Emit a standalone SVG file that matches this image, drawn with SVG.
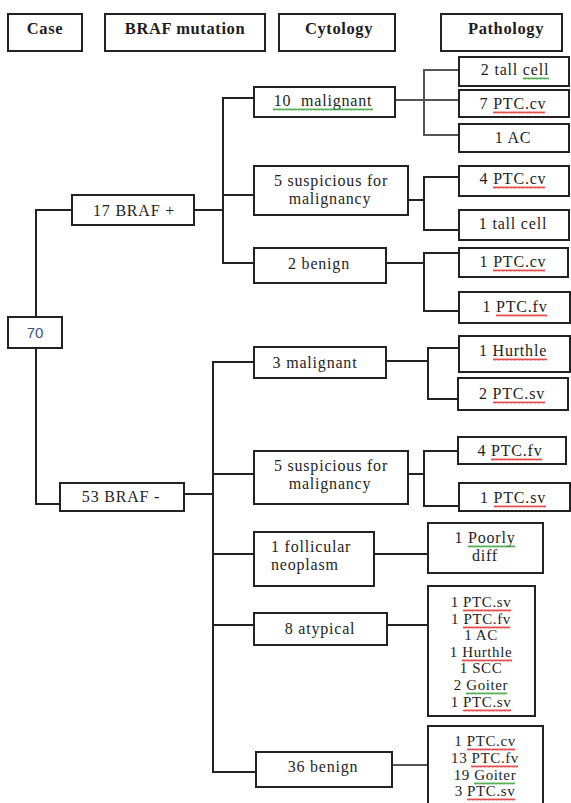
<svg xmlns="http://www.w3.org/2000/svg" width="571" height="803" viewBox="0 0 571 803">
<style>
rect.b{fill:#fff;stroke:#222;stroke-width:2}
text{font-family:"Liberation Serif","Times New Roman",serif;font-size:16px;letter-spacing:0.8px;fill:#1e1e1e;text-anchor:middle}
text.h{font-weight:bold;font-size:16.5px;letter-spacing:0.6px}
text.l{text-anchor:start}
text.s{font-size:15px;letter-spacing:0.6px}
text.n{font-family:"Liberation Sans",Arial,sans-serif;font-size:15px;letter-spacing:0;fill:#3a5680}
rect.r{fill:url(#wr)}
rect.g{fill:url(#wg)}
#connectors path{fill:none;stroke:#222;stroke-width:2}
#connectors path.gr{stroke:#555}
</style>
<defs>
<pattern id="wr" width="4" height="3" patternUnits="userSpaceOnUse"><path d="M0 2.5 L1 0.5 L2 2.5 L3 0.5 L4 2.5" fill="none" stroke="#e02020" stroke-width="0.8"/></pattern>
<pattern id="wg" width="4" height="3" patternUnits="userSpaceOnUse"><path d="M0 2.5 L1 0.5 L2 2.5 L3 0.5 L4 2.5" fill="none" stroke="#2a9a2a" stroke-width="0.8"/></pattern>
</defs>
<rect width="571" height="803" fill="#fff"/>
<g id="connectors">
<path d="M72 210 H36 V317"/>
<path d="M36 348 V504 H60"/>
<path d="M194 210 H223 M254 98 H223 V263 H254 M223 195 H254"/>
<path class="gr" d="M395 100 H424 M459 70 H424 V135 H459 M424 100 H459"/>
<path d="M408 200 H424 M459 177 H424 V230 H459"/>
<path d="M386 263 H424 M459 253 H424 V311 H459"/>
<path d="M184 494 H213 M254 362 H213 V772 H256 M213 474 H254 M213 554 H254 M213 625 H254"/>
<path d="M386 361 H428 M459 348 H428 V399 H458"/>
<path d="M408 474 H424 M458 451 H424 V506 H459"/>
<path d="M374 554 H428"/>
<path d="M387 625 H428"/>
<path class="gr" d="M392 765 H428"/>
</g>
<g id="h-case"><rect class="b" x="8" y="14" width="74" height="37"/><text class="h" x="45" y="34">Case</text></g>
<g id="h-braf"><rect class="b" x="105" y="14" width="160" height="37"/><text class="h" x="185" y="34">BRAF mutation</text></g>
<g id="h-cyto"><rect class="b" x="279" y="14" width="116" height="37"/><text class="h" x="339" y="34">Cytology</text></g>
<g id="h-path"><rect class="b" x="441" y="14" width="121" height="37"/><text class="h" x="506" y="34">Pathology</text></g>

<g id="n70"><rect class="b" x="8" y="317" width="54" height="31"/><text class="n" x="35" y="338">70</text></g>
<g id="braf-pos"><rect class="b" x="72" y="195" width="122" height="30"/><text x="134" y="216">17 BRAF +</text></g>
<g id="braf-neg"><rect class="b" x="60" y="483" width="124" height="28"/><text x="121" y="502">53 BRAF -</text></g>

<g id="c-mal1"><rect class="b" x="254" y="87" width="141" height="30"/><text x="323" y="106">10&#160; malignant</text><rect class="g" width="100" height="3" transform="translate(273 108)"/></g>
<g id="c-sus1"><rect class="b" x="254" y="166" width="154" height="49"/><text x="331" y="186">5 suspicious for</text><text x="330" y="204">malignancy</text></g>
<g id="c-ben1"><rect class="b" x="254" y="248" width="132" height="35"/><text x="319" y="269">2 benign</text></g>
<g id="c-mal2"><rect class="b" x="254" y="347" width="132" height="31"/><text x="315" y="368">3 malignant</text></g>
<g id="c-sus2"><rect class="b" x="254" y="451" width="154" height="53"/><text x="331" y="471">5 suspicious for</text><text x="330" y="489">malignancy</text></g>
<g id="c-fol"><rect class="b" x="254" y="532" width="120" height="54"/><text class="l" x="271" y="552">1 follicular</text><text class="l" x="271" y="570">neoplasm</text></g>
<g id="c-aty"><rect class="b" x="254" y="613" width="133" height="32"/><text x="320" y="634">8 atypical</text></g>
<g id="c-ben2"><rect class="b" x="256" y="752" width="136" height="35"/><text x="323" y="772">36 benign</text></g>

<g id="p1"><rect class="b" x="459" y="57" width="110" height="29"/><text x="515" y="75">2 tall cell</text><rect class="g" width="26" height="3" transform="translate(523 77)"/></g>
<g id="p2"><rect class="b" x="459" y="90" width="110" height="27"/><text x="513" y="109">7 PTC.cv</text><rect class="r" width="52" height="3" transform="translate(493 111)"/></g>
<g id="p3"><rect class="b" x="459" y="124" width="110" height="28"/><text x="513" y="143">1 AC</text></g>
<g id="p4"><rect class="b" x="459" y="166" width="110" height="30"/><text x="513" y="184">4 PTC.cv</text><rect class="r" width="52" height="3" transform="translate(493 186)"/></g>
<g id="p5"><rect class="b" x="459" y="210" width="110" height="30"/><text x="513" y="229">1 tall cell</text></g>
<g id="p6"><rect class="b" x="459" y="248" width="109" height="29"/><text x="513" y="267">1 PTC.cv</text><rect class="r" width="52" height="3" transform="translate(493 269)"/></g>
<g id="p7"><rect class="b" x="459" y="292" width="111" height="31"/><text x="515" y="312">1 PTC.fv</text><rect class="r" width="51" height="3" transform="translate(496 314)"/></g>
<g id="p8"><rect class="b" x="459" y="336" width="111" height="36"/><text x="513" y="356">1 Hurthle</text><rect class="r" width="54" height="3" transform="translate(493 358)"/></g>
<g id="p9"><rect class="b" x="458" y="378" width="110" height="32"/><text x="512" y="399">2 PTC.sv</text><rect class="r" width="52" height="3" transform="translate(493 401)"/></g>
<g id="p10"><rect class="b" x="458" y="437" width="108" height="27"/><text x="510" y="456">4 PTC.fv</text><rect class="r" width="51" height="3" transform="translate(491 458)"/></g>
<g id="p11"><rect class="b" x="459" y="483" width="111" height="28"/><text x="513" y="503">1 PTC.sv</text><rect class="r" width="52" height="3" transform="translate(494 505)"/></g>
<g id="p12"><rect class="b" x="428" y="523" width="115" height="50"/><text x="485" y="543">1 Poorly</text><text x="485" y="561">diff</text><rect class="g" width="47" height="3" transform="translate(468 545)"/></g>
<g id="p13"><rect class="b" x="428" y="586" width="107" height="130"/>
<text class="s" x="481" y="607">1 PTC.sv</text>
<text class="s" x="481" y="624">1 PTC.fv</text>
<text class="s" x="481" y="640">1 AC</text>
<text class="s" x="481" y="657">1 Hurthle</text>
<text class="s" x="481" y="673">1 SCC</text>
<text class="s" x="481" y="690">2 Goiter</text>
<text class="s" x="481" y="707">1 PTC.sv</text>
<rect class="r" width="48" height="3" transform="translate(463 609)"/>
<rect class="r" width="47" height="3" transform="translate(463 626)"/>
<rect class="r" width="50" height="3" transform="translate(462 659)"/>
<rect class="g" width="41" height="3" transform="translate(466 692)"/>
<rect class="r" width="48" height="3" transform="translate(463 709)"/></g>
<g id="p14"><rect class="b" x="428" y="726" width="115" height="90"/>
<text class="s" x="485" y="746">1 PTC.cv</text>
<text class="s" x="485" y="763">13 PTC.fv</text>
<text class="s" x="485" y="780">19 Goiter</text>
<text class="s" x="485" y="796">3 PTC.sv</text>
<rect class="r" width="48" height="3" transform="translate(467 748)"/>
<rect class="r" width="47" height="3" transform="translate(471 765)"/>
<rect class="g" width="41" height="3" transform="translate(474 782)"/>
<rect class="r" width="48" height="3" transform="translate(467 798)"/></g>
</svg>
